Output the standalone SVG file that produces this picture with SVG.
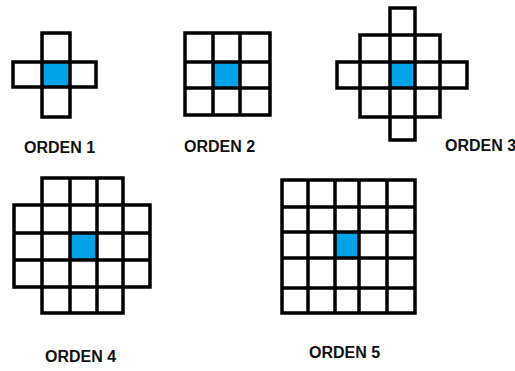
<svg xmlns="http://www.w3.org/2000/svg" width="515" height="371" viewBox="0 0 515 371">
<style>
.g{fill:none;stroke:#000;stroke-width:3.5;stroke-linecap:square}
.c{fill:#00A2E8}
.t{font-family:"Liberation Sans",Arial,sans-serif;font-weight:bold;font-size:16px;fill:#111}
</style>
<rect width="515" height="371" fill="#fff"/>
<g id="orden1">
<rect class="c" x="43" y="63" width="26" height="23"/>
<path class="g" d="M42 33H70M13 62H96M13 87H96M42 117H70M13 62V87M42 33V117M70 33V117M96 62V87"/>
<text class="t" x="24" y="153">ORDEN 1</text>
</g>
<g id="orden2">
<rect class="c" x="214" y="63" width="25" height="24"/>
<path class="g" d="M185 33H270M185 62H270M185 88H270M185 115H270M185 33V115M213 33V115M240 33V115M270 33V115"/>
<text class="t" x="184" y="152">ORDEN 2</text>
</g>
<g id="orden3">
<rect class="c" x="391" y="63" width="23" height="24"/>
<path class="g" d="M390 8H415M360 35H440M337 62H467M337 88H467M360 117H440M390 140H415M337 62V88M360 35V117M390 8V140M415 8V140M440 35V117M467 62V88"/>
<text class="t" x="445" y="151">ORDEN 3</text>
</g>
<g id="orden4">
<rect class="c" x="71" y="234" width="25" height="25"/>
<path class="g" d="M42 178H123M14 205H150M14 233H150M14 260H150M14 287H150M42 313H123M14 205V287M42 178V313M70 178V313M97 178V313M123 178V313M150 205V287"/>
<text class="t" x="45" y="362">ORDEN 4</text>
</g>
<g id="orden5">
<rect class="c" x="336" y="233" width="22" height="24"/>
<path class="g" d="M282 180H415M282 207H415M282 232H415M282 258H415M282 288H415M282 313H415M282 180V313M308 180V313M335 180V313M359 180V313M387 180V313M415 180V313"/>
<text class="t" x="309" y="358">ORDEN 5</text>
</g>
<g id="connectors"/>
</svg>
